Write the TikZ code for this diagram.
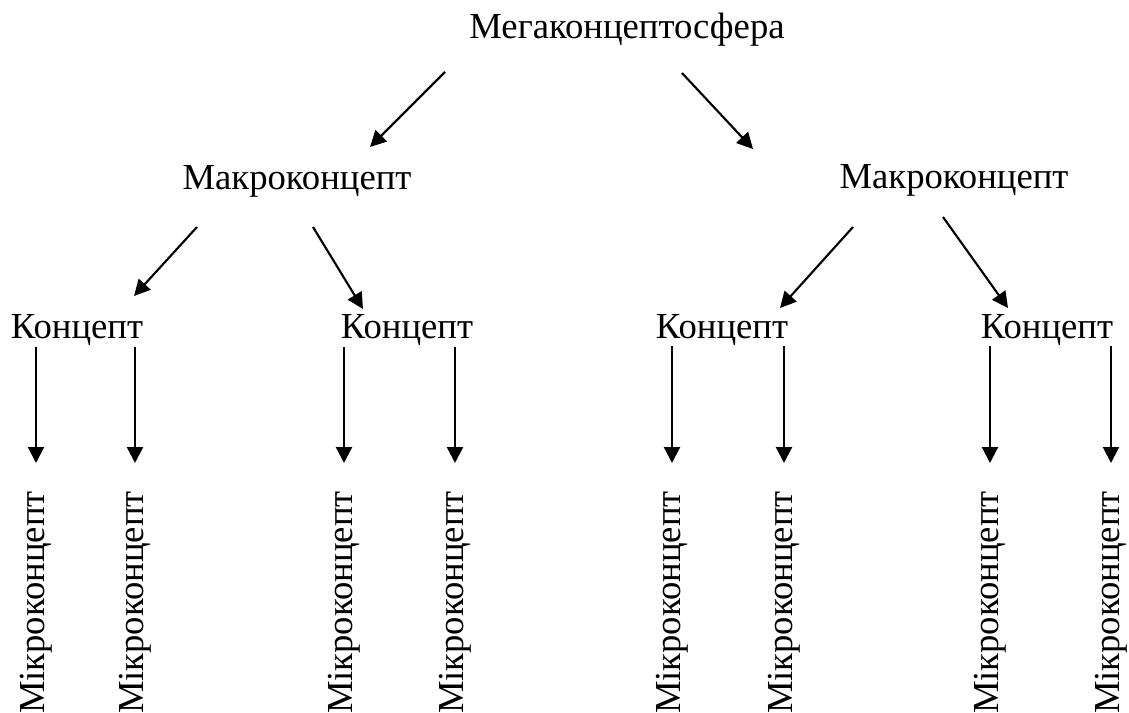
\documentclass[tikz,border=0pt]{standalone}
\usepackage{fontspec}
\setmainfont{Liberation Serif}
\usetikzlibrary{arrows.meta,calc}

\tikzset{
  lbl/.style={anchor=base,inner sep=0pt,font=\fontsize{27.5}{33}\selectfont},
  micro/.style={lbl,anchor=east,rotate=90},
  arr/.style={-{Triangle[length=12pt,width=12pt]},line width=1.6pt},
  downarr/.style={arr,shorten <=6pt,shorten >=21pt}
}

\begin{document}
\begin{tikzpicture}[x=0.75pt,y=0.75pt,yscale=-1,xscale=1]
        \useasboundingbox (0,0) rectangle (1129,713);

        \node[lbl] (mega) at (627,39) {Мегаконцептосфера};
        \node[lbl] (macroL) at (297,190) {Макроконцепт};
        \node[lbl] (macroR) at (954,189) {Макроконцепт};
        \node[lbl] (conc1) at (77,339) {Концепт};
        \node[lbl] (conc2) at (407,339) {Концепт};
        \node[lbl] (conc3) at (722,338) {Концепт};
        \node[lbl] (conc4) at (1047,338) {Концепт};

        \node[micro] (mic1) at (36,491) {Мікроконцепт};
        \node[micro] (mic2) at (135,491) {Мікроконцепт};
        \node[micro] (mic3) at (344,491) {Мікроконцепт};
        \node[micro] (mic4) at (455,491) {Мікроконцепт};
        \node[micro] (mic5) at (672,491) {Мікроконцепт};
        \node[micro] (mic6) at (784,491) {Мікроконцепт};
        \node[micro] (mic7) at (990,491) {Мікроконцепт};
        \node[micro] (mic8) at (1111,491) {Мікроконцепт};

        \draw[arr] ($(mega.base)+(-182,33)$) -- ($(macroL.base)+(73,-43)$);
        \draw[arr] ($(mega.base)+(55,34)$) -- ($(macroR.base)+(-201,-40)$);
        \draw[arr] ($(macroL.base)+(-100,37)$) -- ($(conc1.base)+(57,-43)$);
        \draw[arr] ($(macroL.base)+(16,37)$) -- ($(conc2.base)+(-44,-30)$);
        \draw[arr] ($(macroR.base)+(-101,38)$) -- ($(conc3.base)+(58,-30)$);
        \draw[arr] ($(macroR.base)+(-11,28)$) -- ($(conc4.base)+(-39,-30)$);

        \draw[downarr] (conc1.base -| mic1.east) -- (mic1.east);
        \draw[downarr] (conc1.base -| mic2.east) -- (mic2.east);
        \draw[downarr] (conc2.base -| mic3.east) -- (mic3.east);
        \draw[downarr] (conc2.base -| mic4.east) -- (mic4.east);
        \draw[downarr] (conc3.base -| mic5.east) -- (mic5.east);
        \draw[downarr] (conc3.base -| mic6.east) -- (mic6.east);
        \draw[downarr] (conc4.base -| mic7.east) -- (mic7.east);
        \draw[downarr] (conc4.base -| mic8.east) -- (mic8.east);
\end{tikzpicture}
\end{document}
